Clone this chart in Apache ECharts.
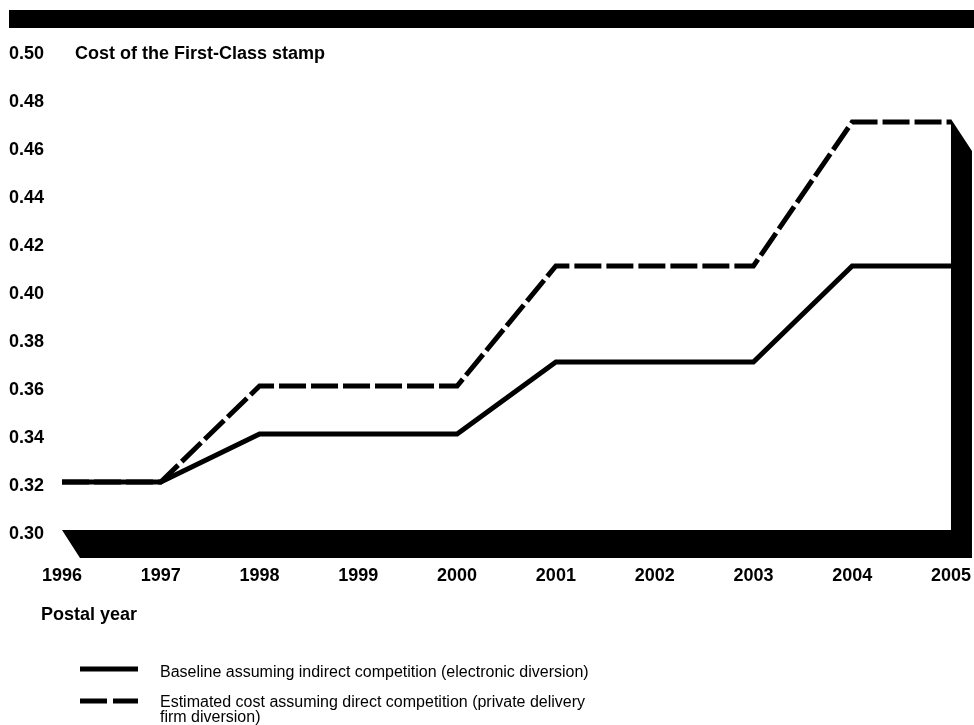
<!DOCTYPE html>
<html>
<head>
<meta charset="utf-8">
<script src="https://cdn.jsdelivr.net/npm/echarts@6/dist/echarts.min.js"></script>
<style>
  html, body { margin: 0; padding: 0; background: #fff; }
  #chart { width: 974px; height: 725px; }
</style>
</head>
<body>
<div id="chart"></div>
<script>
// Postal years along the horizontal axis
const years = ['1996', '1997', '1998', '1999', '2000', '2001', '2002', '2003', '2004', '2005'];
// Stamp cost, baseline (electronic diversion)
const baseline = [0.32, 0.32, 0.34, 0.34, 0.34, 0.37, 0.37, 0.37, 0.41, 0.41];
// Stamp cost, direct competition (private delivery firm diversion)
const estimated = [0.32, 0.32, 0.36, 0.36, 0.36, 0.41, 0.41, 0.41, 0.47, 0.47];
// Value axis range and step
const yMin = 0.30, yMax = 0.50, yStep = 0.02;

const titleText = 'Cost of the First-Class stamp';
const xAxisName = 'Postal year';
const legendBaseline = 'Baseline assuming indirect competition (electronic diversion)';
const legendEstimated = 'Estimated cost assuming direct competition (private delivery\nfirm diversion)';

const FONT = "'Liberation Sans', Arial, Helvetica, sans-serif";
const DASH = [27, 5];

const chart = echarts.init(document.getElementById('chart'), null, { renderer: 'canvas' });

chart.setOption({
  animation: false,
  backgroundColor: '#ffffff',
  grid: { left: 62, right: 23, top: 50, bottom: 195, containLabel: false },
  xAxis: {
    type: 'category',
    data: years,
    boundaryGap: false,
    axisLine: { show: false },
    axisTick: { show: false },
    splitLine: { show: false },
    axisLabel: {
      margin: 37,
      color: '#000',
      fontFamily: FONT,
      fontWeight: 'bold',
      fontSize: 18,
      interval: 0
    }
  },
  yAxis: {
    type: 'value',
    min: yMin,
    max: yMax,
    interval: yStep,
    axisLine: { show: false },
    axisTick: { show: false },
    splitLine: { show: false },
    axisLabel: {
      align: 'left',
      verticalAlign: 'top',
      lineHeight: 8,
      margin: 53,
      color: '#000',
      fontFamily: FONT,
      fontWeight: 'bold',
      fontSize: 18,
      formatter: v => v.toFixed(2)
    }
  },
  series: [
    {
      name: 'Baseline',
      type: 'line',
      data: baseline,
      symbol: 'none',
      z: 3,
      lineStyle: { color: '#000', width: 5, type: 'solid', cap: 'butt', join: 'miter' }
    },
    {
      name: 'Estimated',
      type: 'line',
      data: estimated,
      symbol: 'none',
      z: 4,
      lineStyle: { color: '#000', width: 5, type: DASH, cap: 'butt', join: 'miter' }
    }
  ]
});

// Decorative frame: floor slab and right-hand wall, placed from the axis extents
const xL = chart.convertToPixel({ xAxisIndex: 0 }, years[0]);
const xR = chart.convertToPixel({ xAxisIndex: 0 }, years[years.length - 1]);
const yB = chart.convertToPixel({ yAxisIndex: 0 }, yMin);
const yWallTop = chart.convertToPixel({ yAxisIndex: 0 }, Math.max(...estimated)) - 3;
const depthX = 21, depthY = 28;

chart.setOption({
  graphic: [
    // heading band
    { type: 'rect', shape: { x: 9, y: 10, width: 965, height: 18 }, style: { fill: '#000' }, z: 1 },
    // floor + wall
    {
      type: 'polygon',
      z: 1,
      shape: {
        points: [
          [xR, yWallTop],
          [xR + depthX, yWallTop + 32],
          [xR + depthX, yB + depthY],
          [xL + 18, yB + depthY],
          [xL, yB],
          [xR, yB]
        ]
      },
      style: { fill: '#000' }
    },
    // chart heading
    {
      type: 'text', x: 75, y: 54,
      style: { text: titleText, fill: '#000', font: 'bold 18px ' + FONT, textVerticalAlign: 'middle', verticalAlign: 'middle' }
    },
    // category axis name
    {
      type: 'text', x: 41, y: 615,
      style: { text: xAxisName, fill: '#000', font: 'bold 18px ' + FONT, textVerticalAlign: 'middle', verticalAlign: 'middle' }
    },
    // legend: baseline
    {
      type: 'line', shape: { x1: 80, y1: 669, x2: 138, y2: 669 },
      style: { stroke: '#000', lineWidth: 5, lineCap: 'butt' }
    },
    {
      type: 'text', x: 160, y: 673,
      style: { text: legendBaseline, fill: '#000', font: '16px ' + FONT, verticalAlign: 'middle', textVerticalAlign: 'middle' }
    },
    // legend: estimated
    {
      type: 'line', shape: { x1: 80, y1: 701, x2: 138, y2: 701 },
      style: { stroke: '#000', lineWidth: 5, lineCap: 'butt', lineDash: [27, 6] }
    },
    {
      type: 'text', x: 160, y: 695,
      style: { text: legendEstimated, fill: '#000', font: '16px ' + FONT, lineHeight: 15, verticalAlign: 'top', textVerticalAlign: 'top' }
    }
  ]
});
</script>
</body>
</html>
